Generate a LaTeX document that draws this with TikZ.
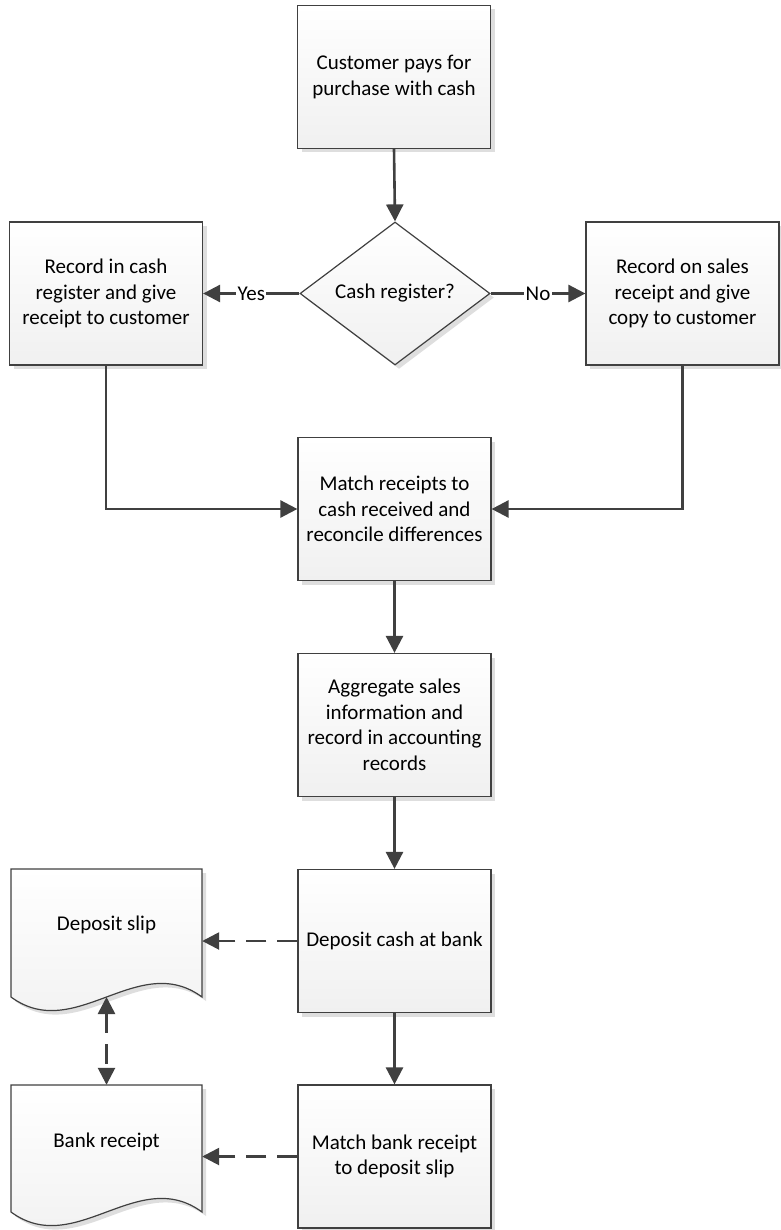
\documentclass[tikz,border=0pt]{standalone}
\usepackage{fontspec}
\setmainfont{Carlito}
\usetikzlibrary{arrows.meta,shapes.geometric,shadows}
\definecolor{linegray}{HTML}{404040}
\definecolor{shadowgray}{HTML}{DEDEDE}
\definecolor{fillbottom}{HTML}{F0F0F0}

\begin{document}
\begin{tikzpicture}[x=1pt,y=-1pt,
  txt/.style={font=\fontsize{21}{25.5}\selectfont, text=black, align=center},
  shapefill/.style={draw=linegray, line width=1.2pt, top color=white, bottom color=fillbottom,
    drop shadow={shadow xshift=4pt, shadow yshift=-4pt, fill=shadowgray, opacity=1}},
  procbox/.style={txt, shapefill, rectangle, inner sep=0pt, minimum width=193pt, minimum height=143pt},
  decision/.style={txt, shapefill, diamond, inner sep=0pt, minimum width=190pt, minimum height=143pt},
  doctext/.style={txt, inner sep=0pt, minimum width=191pt},
  conn/.style={draw=linegray, line width=2.6pt, -{Triangle[length=17pt,width=17pt]}},
  dconn/.style={conn, dash pattern=on 20pt off 11pt},
  lbl/.style={txt, fill=white, inner sep=1.5pt}
]
\useasboundingbox (0,0) rectangle (780,1230);

% process steps
\node[procbox] (pay) at (394,77) {Customer pays for\\purchase with cash};
\node[decision] (reg) at (395,293.5) {Cash register?};
\node[procbox] (cashreg) at (106,293.5) {Record in cash\\register and give\\receipt to customer};
\node[procbox] (salesrec) at (682.5,293.5) {Record on sales\\receipt and give\\copy to customer};
\node[procbox] (match) at (394.5,509) {Match receipts to\\cash received and\\reconcile differences};
\node[procbox] (aggr) at (394.5,725) {Aggregate sales\\information and\\record in accounting\\records};
\node[procbox] (deposit) at (394.5,941) {Deposit cash at bank};
\node[procbox] (matchbank) at (394.5,1156.5) {Match bank receipt\\to deposit slip};

% documents
\path[shapefill] (11,869) -- (202,869) -- (202,997)
  .. controls (138,950) and (75,1044) .. (11,997) -- cycle;
\path[shapefill] (11,1085) -- (202,1085) -- (202,1212)
  .. controls (138,1165) and (75,1259) .. (11,1212) -- cycle;
\node[doctext, minimum height=112pt] (slip) at (106.5,925) {Deposit slip};
\node[doctext, minimum height=114pt] (breceipt) at (106.5,1142) {Bank receipt};
\coordinate (slipwave) at (106.5,997);

% connectors
\draw[conn] (pay.south) -- (reg.north);
\draw[conn] (reg.west) -- node[lbl] {Yes} (cashreg.east);
\draw[conn] (reg.east) -- node[lbl] {No} (salesrec.west);
\draw[conn] (cashreg.south) |- (match.west);
\draw[conn] (salesrec.south) |- (match.east);
\draw[conn] (match.south) -- (aggr.north);
\draw[conn] (aggr.south) -- (deposit.north);
\draw[conn] (deposit.south) -- (matchbank.north);
\draw[dconn] (deposit.west) -- (deposit.west -| slip.east);
\draw[dconn] (matchbank.west) -- (matchbank.west -| breceipt.east);
\draw[dconn, {Triangle[length=17pt,width=17pt]}-{Triangle[length=17pt,width=17pt]}]
  (slipwave) -- (slipwave |- breceipt.north);
\end{tikzpicture}
\end{document}
